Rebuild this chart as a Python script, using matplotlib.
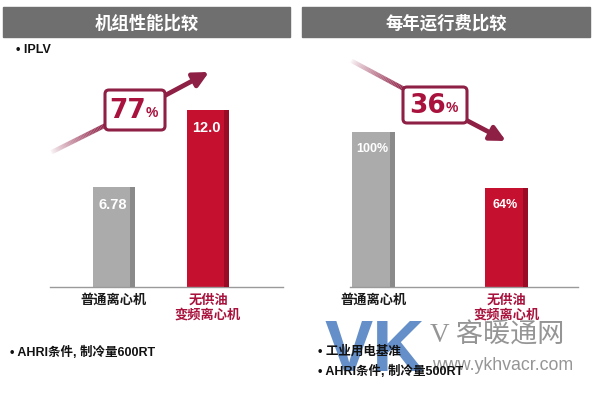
import numpy as np
import matplotlib
matplotlib.use("Agg")
import matplotlib.pyplot as plt
from matplotlib.patches import Rectangle, FancyBboxPatch
from matplotlib.collections import LineCollection

plt.rcParams['font.family'] = ['Liberation Sans', 'Noto Sans CJK SC', 'DejaVu Sans']

# data
left_title = '机组性能比较'
right_title = '每年运行费比较'
categories = ['普通离心机', '无供油\n变频离心机']
iplv_values = [6.78, 12.0]
iplv_labels = ['6.78', '12.0']
cost_values = [100, 64]
cost_labels = ['100%', '64%']
left_change = '77'
right_change = '36'
left_notes = ['• AHRI条件, 制冷量600RT']
right_notes = ['• 工业用电基准', '• AHRI条件, 制冷量500RT']

GRAY = '#ababab'
GRAY_SIDE = '#8a8a8a'
RED = '#c5102f'
RED_SIDE = '#9a0c25'
DARK_RED = '#8e1f45'
LABEL_RED = '#a8123c'

W, H = 600, 394
fig = plt.figure(figsize=(6, 3.94), dpi=100)
fig.patch.set_facecolor('white')


def px_axes(x0, x1, y_top, y_bot):
    return fig.add_axes([x0 / W, 1 - y_bot / H, (x1 - x0) / W, (y_bot - y_top) / H])


def bar_panel(ax, values, labels, width, xlim, ylim, fs):
    side = width * 0.12
    cols = [GRAY, RED]
    sides = [GRAY_SIDE, RED_SIDE]
    x = np.arange(len(values))
    ax.bar(x, values, width=width, color=cols, zorder=2)
    ax.bar(x + width / 2 - side / 2, values, width=side, color=sides, zorder=3)
    for i, v in enumerate(values):
        ax.annotate(labels[i], xy=(i, v), xytext=(-1, -8), textcoords='offset points',
                    ha='center', va='top', color='white', fontsize=fs,
                    fontweight='bold')
    ax.set_xlim(*xlim)
    ax.set_ylim(*ylim)
    ax.set_xticks(x, categories)
    ax.tick_params(axis='x', length=0, pad=4, labelsize=9.5)
    ticks = ax.get_xticklabels()
    ticks[0].set_color('#1a1a1a')
    ticks[1].set_color(LABEL_RED)
    for t in ticks:
        t.set_fontweight('bold')
        t.set_linespacing(1.1)
        t.set_family(['Noto Sans CJK SC'])
    ax.set_yticks([])
    for s in ['top', 'left', 'right']:
        ax.spines[s].set_visible(False)
    ax.spines['bottom'].set_color('#9a9a9a')
    ax.spines['bottom'].set_linewidth(1.0)
    ax.patch.set_alpha(0)


# left bars: baseline y=287, x 50..283
axl = px_axes(50, 283, 100, 287)
bar_panel(axl, iplv_values, iplv_labels, 0.447, (-0.681, 1.798), (0, 12.68), 10.5)

# right bars: baseline y=287, x 350..578
axr = px_axes(350, 578, 120, 287)
bar_panel(axr, cost_values, cost_labels, 0.323, (-0.18, 1.534), (0, 107.7), 9)

# overlay for decoration
ov = fig.add_axes([0, 0, 1, 1], zorder=5)
ov.set_xlim(0, W)
ov.set_ylim(H, 0)
ov.axis('off')
ov.patch.set_alpha(0)

for (x0, x1), title in [((3, 290), left_title), ((302, 590), right_title)]:
    ov.add_patch(Rectangle((x0, 7), x1 - x0, 30, color='#6f6f6f'))
    ov.text((x0 + x1) / 2, 22.5, title, color='white', fontsize=12.5,
            fontweight='bold', ha='center', va='center')

ov.text(16, 50, '• IPLV', fontsize=9, fontweight='bold', ha='left', va='center',
        color='#111111')


def fade_line(p0, p1, lw=3.2):
    n = 40
    xs = np.linspace(p0[0], p1[0], n + 1)
    ys = np.linspace(p0[1], p1[1], n + 1)
    segs = [[(xs[i], ys[i]), (xs[i + 1], ys[i + 1])] for i in range(n)]
    rgba = np.array([matplotlib.colors.to_rgba(DARK_RED)] * n)
    rgba[:, 3] = np.linspace(0.0, 1.0, n) ** 0.8
    ov.add_collection(LineCollection(segs, colors=rgba, linewidths=lw, capstyle='butt'))


def change_box(x0, y0, x1, y1, num):
    ov.add_patch(FancyBboxPatch((x0, y0), x1 - x0, y1 - y0,
                                boxstyle='round,pad=0,rounding_size=4',
                                fc='white', ec=DARK_RED, lw=2.2, zorder=4))
    cx = (x0 + x1) / 2
    cy = (y0 + y1) / 2 + 1
    ov.text(cx + 11, cy, num, fontsize=19, fontweight='bold', color=LABEL_RED,
            ha='right', va='center', family=['DejaVu Sans'], zorder=5)
    ov.text(cx + 11, cy + 2, '%', fontsize=10, fontweight='bold', color=LABEL_RED,
            ha='left', va='center', family=['Liberation Sans'], zorder=5)


# left arrow (upward)
fade_line((50, 153), (106, 125))
ov.annotate('', xy=(209, 72), xytext=(164, 96),
            arrowprops=dict(arrowstyle='-|>,head_length=0.9,head_width=0.45',
                            color=DARK_RED, lw=3.4, shrinkA=0, shrinkB=0))
change_box(105, 90, 165, 130, left_change)

# right arrow (downward)
fade_line((350, 60), (406, 90))
ov.annotate('', xy=(506, 141), xytext=(464, 119),
            arrowprops=dict(arrowstyle='-|>,head_length=0.9,head_width=0.45',
                            color=DARK_RED, lw=3.4, shrinkA=0, shrinkB=0))
change_box(403, 87, 467, 123, right_change)

# watermark (drawn under the notes)
ov.text(375, 352, 'VK', fontsize=52, fontweight='bold', color='#4a7cc0', alpha=0.85,
        ha='center', va='center', family=['Liberation Sans'], zorder=1)
ov.text(430, 336, 'V 客暖通网', fontsize=19.5, color='#8a8a8a', alpha=0.9,
        ha='left', va='center', family=['Liberation Serif', 'Noto Sans CJK SC'])
ov.text(432, 366, 'www.ykhvacr.com', fontsize=12.8, color='#8a8a8a', alpha=0.9,
        ha='left', va='center', family=['Liberation Sans'])

# notes
for i, t in enumerate(left_notes):
    ov.text(10, 352 + 18 * i, t, fontsize=9, fontweight='bold', ha='left',
            va='center', color='#111111', zorder=3)
for i, t in enumerate(right_notes):
    ov.text(318, 352 + 19 * i, t, fontsize=9, fontweight='bold', ha='left',
            va='center', color='#111111', zorder=3)

fig.savefig('out.png', dpi=100)
